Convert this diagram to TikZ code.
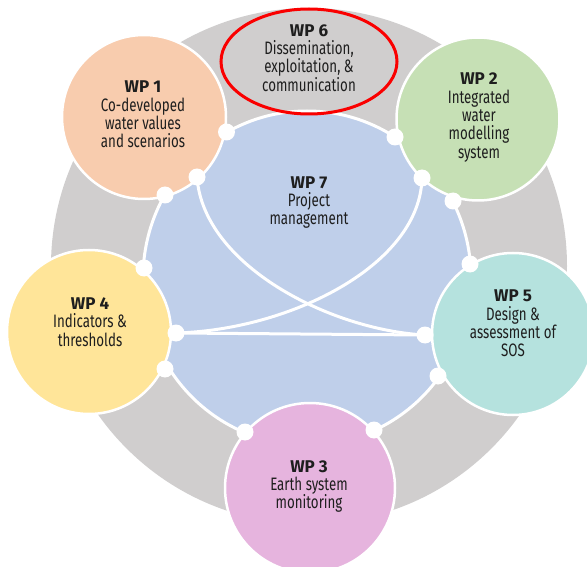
\documentclass[tikz,border=0pt]{standalone}
\usepackage{fontspec}
\setmainfont[FakeStretch=0.74]{Fira Sans}
\newfontfamily\wpb{Fira Sans}
\usetikzlibrary{shapes.geometric}
\definecolor{ringgray}{RGB}{208,206,206}
\definecolor{pmblue}{RGB}{191,207,234}
\definecolor{wpone}{RGB}{248,204,174}
\definecolor{wptwo}{RGB}{198,224,181}
\definecolor{wpfive}{RGB}{181,226,222}
\definecolor{wpthree}{RGB}{230,180,222}
\definecolor{wpfour}{RGB}{255,229,153}
\definecolor{redring}{RGB}{250,0,0}
\definecolor{txt}{RGB}{30,30,30}
\newcommand{\wphead}[1]{{\wpb\fontsize{17}{18.3}\selectfont\bfseries #1}}
\begin{document}
\begin{tikzpicture}[x=1pt,y=-1pt,
  wpc/.style={circle, draw=white, line width=2.5pt, minimum size=#1, inner sep=0pt},
  dot/.style={circle, fill=white, minimum size=17pt, inner sep=0pt},
  lbl/.style={align=center, font=\fontsize{18}{18.3}\selectfont, text=txt, inner sep=0pt},
  link/.style={draw=white, line width=3pt}]
\useasboundingbox (0,0) rectangle (587,567);
% outer ring
\node[circle, fill=ringgray, minimum size=516pt, inner sep=0pt] (ring) at (309,266) {};
% central project management
\node[ellipse, fill=pmblue, draw=white, line width=3pt, minimum width=328pt, minimum height=334pt, inner sep=0pt] (wp7) at (307,278) {};
% junction points
\coordinate (p1) at (226.5,132);
\coordinate (p2) at (197,177);
\coordinate (p3) at (165,195);
\coordinate (p4) at (395,137);
\coordinate (p5) at (422,178);
\coordinate (p6) at (453,201);
\coordinate (p7) at (144,268);
\coordinate (p8) at (176,333);
\coordinate (p9) at (165,369);
\coordinate (p10) at (470,264);
\coordinate (p11) at (425,335);
\coordinate (p12) at (438,376);
\coordinate (p13) at (245,432);
\coordinate (p14) at (374,430);
% inner links
\draw[link] (p2) .. controls (203,265) and (330,330) .. (p11);
\draw[link] (p5) .. controls (420,265) and (290,330) .. (p8);
\draw[link] (p8) -- (p11);
% work package circles
\node[wpc=164pt, fill=wpone] (wp1) at (144,117) {};
\node[wpc=163pt, fill=wptwo] (wp2) at (478,119) {};
\node[wpc=162pt, fill=wpfive] (wp5) at (513,334) {};
\node[wpc=170pt, fill=wpthree] (wp3) at (310,488) {};
\node[wpc=164pt, fill=wpfour] (wp4) at (89,332) {};
\node[ellipse, draw=redring, line width=3pt, minimum width=176pt, minimum height=105pt, inner sep=0pt] (wp6) at (309,61.5) {};
% dots
\foreach \i in {1,...,14} { \node[dot] (d\i) at (p\i) {}; }
% labels
\node[lbl] (t6) at (309,58) {\wphead{WP 6}\\Dissemination,\\exploitation, \&\\communication};
\node[lbl] (t1) at (143,114.5) {\wphead{WP 1}\\Co-developed\\water values\\and scenarios};
\node[lbl] (t2) at (479,117.5) {\wphead{WP 2}\\Integrated\\water\\modelling\\system};
\node[lbl] (t7) at (309,202.5) {\wphead{WP 7}\\Project\\management};
\node[lbl] (t4) at (90,322) {\wphead{WP 4}\\Indicators \&\\thresholds};
\node[lbl] (t5) at (513,323.5) {\wphead{WP 5}\\Design \&\\assessment of\\SOS};
\node[lbl] (t3) at (309,486.5) {\wphead{WP 3}\\Earth system\\monitoring};
\end{tikzpicture}
\end{document}
